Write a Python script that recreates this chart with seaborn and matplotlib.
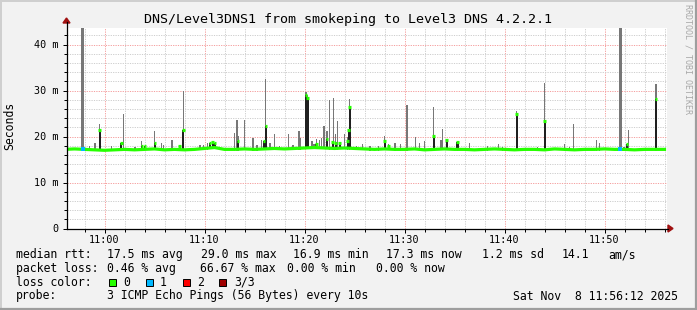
import numpy as np
import matplotlib
matplotlib.use("Agg")
import matplotlib.pyplot as plt
import seaborn as sns
from matplotlib.patches import Rectangle, Polygon
from matplotlib.lines import Line2D

# ---------------- data (minutes after 11:00, values in ms) ----------------
base_minutes = list(range(-4, 57))
base_median = [17.2, 17.3, 17.2, 17.1, 17.0, 17.1, 17.2, 17.1, 17.2, 17.3,
               17.1, 17.2, 17.1, 17.2, 17.4, 17.6, 17.2, 17.2, 17.3, 17.2,
               17.3, 17.4, 17.3, 17.4, 17.5, 17.6, 17.5, 17.4, 17.5, 17.4,
               17.3, 17.2, 17.3, 17.2, 17.2, 17.3, 17.1, 17.2, 17.3, 17.2,
               17.2, 17.1, 17.2, 17.3, 17.2, 17.1, 17.2, 17.2, 17.1, 17.3,
               17.2, 17.1, 17.2, 17.2, 17.3, 17.2, 17.2, 17.1, 17.2, 17.2, 17.2]

smoke_minutes = [-1.48, -0.96, -0.5, 0.69, 1.92, 3.07, 3.72, 5.02, 5.7, 5.92,
                 6.75, 7.89, 9.57, 9.92, 10.32, 10.6, 10.9, 12.99, 13.24, 13.35,
                 14.02, 14.87, 15.25, 15.7, 16.12, 16.55, 17.0, 17.5, 18.4, 18.87,
                 19.44, 19.6, 20.17, 20.3, 20.75, 20.97, 21.19, 21.5, 21.7, 21.94,
                 22.25, 22.5, 22.9, 23.1, 23.3, 24.0, 24.3, 24.5, 25.2, 25.8,
                 26.54, 27.4, 28.0, 28.4, 29.07, 29.6, 30.27, 31.1, 31.5, 32.0,
                 32.9, 33.65, 33.8, 34.2, 35.3, 36.5, 38.3, 39.4, 39.8, 41.2,
                 43.3, 44.0, 46.0, 46.5, 46.9, 49.2, 49.5, 51.95, 52.4, 55.17]
smoke_high = [18.0, 18.5, 22.7, 17.9, 24.8, 17.8, 19.0, 21.3, 18.5, 18.1,
              19.2, 29.9, 18.1, 18.1, 18.6, 18.9, 19.0, 20.8, 23.5, 20.1,
              23.5, 19.7, 18.1, 19.2, 32.5, 18.6, 20.6, 17.9, 20.6, 18.1,
              21.3, 19.6, 29.6, 29.0, 19.0, 18.3, 19.4, 19.3, 19.6, 22.3,
              21.2, 27.9, 28.4, 20.6, 23.3, 20.6, 20.0, 28.1, 17.9, 18.3,
              18.0, 17.9, 20.1, 18.3, 18.6, 18.3, 26.8, 19.9, 18.5, 19.1,
              26.4, 19.2, 21.6, 19.3, 18.8, 18.6, 18.0, 18.3, 17.8, 25.5,
              17.8, 31.7, 18.4, 17.8, 22.7, 19.2, 18.5, 17.8, 21.4, 31.4]

tall_minutes = [-2.2, 51.55]
tall_high = [50.0, 50.0]

spike_minutes = [-0.5, 1.69, 3.72, 4.02, 5.02, 7.5, 7.89, 10.55, 10.8, 11.05,
                 13.35, 15.94, 16.12, 20.17, 20.3, 21.19, 22.25, 22.8, 23.1, 23.5,
                 24.3, 24.4, 24.5, 28.0, 28.4, 32.9, 34.2, 35.3, 41.2, 44.0,
                 52.25, 55.17]
spike_median = [21.5, 18.6, 18.0, 18.0, 18.6, 18.0, 21.5, 18.5, 18.9, 18.6,
                19.0, 19.0, 22.2, 29.0, 28.4, 18.3, 19.4, 18.7, 18.5, 18.6,
                19.1, 21.5, 26.5, 19.1, 18.0, 20.2, 19.2, 18.7, 25.0, 23.4,
                18.3, 28.1]

loss_minutes = [-2.2, 51.55]
loss_median = [17.2, 17.2]

x_ticks = [0, 10, 20, 30, 40, 50]
x_labels = ["11:00", "11:10", "11:20", "11:30", "11:40", "11:50"]
y_ticks = [0, 10, 20, 30, 40]
y_labels = ["0", "10 m", "20 m", "30 m", "40 m"]

title = "DNS/Level3DNS1 from smokeping to Level3 DNS 4.2.2.1"
rtt_items = ["median rtt:", "17.5 ms avg", "29.0 ms max", "16.9 ms min",
             "17.3 ms now", "1.2 ms sd", "14.1", "am/s"]
loss_items = ["packet loss:", "0.46 % avg", "66.67 % max", "0.00 % min", "0.00 % now"]
loss_color_labels = ["0", "1", "2", "3/3"]
loss_colors = ["#26ff00", "#00b8ff", "#ff0000", "#a00000"]
probe_items = ["probe:", "3 ICMP Echo Pings (56 Bytes) every 10s",
               "Sat Nov  8 11:56:12 2025"]

# ---------------- figure ----------------
W, H = 697, 310
MONO = ["DejaVu Sans Mono"]
fig = plt.figure(figsize=(W / 100, H / 100), dpi=100, facecolor="#f2f2f2")


def fx(x):
    return x / W


def fy(y):
    return 1 - y / H


ax_l, ax_r, ax_t, ax_b = 66.5, 666.5, 28.0, 228.5
ax = fig.add_axes([fx(ax_l), fy(ax_b), (ax_r - ax_l) / W, (ax_b - ax_t) / H])
ax.set_facecolor("white")
ax.set_xlim(-3.8, 56.2)
ax.set_ylim(0, (ax_b - ax_t) / 4.6)
for s in ax.spines.values():
    s.set_visible(False)

# grid
ax.set_xticks(x_ticks)
ax.set_xticks(np.arange(-2, 57, 2), minor=True)
ax.set_yticks(y_ticks)
ax.set_yticks(np.arange(0, 44, 2), minor=True)
ax.set_axisbelow(True)
ax.grid(which="minor", color="#cfcfcf", linewidth=0.72, linestyle=(0, (1.2, 1.2)))
ax.grid(which="major", color="#f5a0a0", linewidth=0.72, linestyle=(0, (1.2, 1.2)))
ax.set_xticklabels(x_labels, fontfamily=MONO, fontsize=7.3)
ax.set_yticklabels(y_labels, fontfamily=MONO, fontsize=7.3)
ax.tick_params(which="major", length=3, width=0.72, color="#000000", pad=1.5)
ax.tick_params(which="minor", length=2, width=0.72, color="#000000")
ax.tick_params(axis="y", pad=2.5)

# smoke
base_at_smoke = np.interp(smoke_minutes, base_minutes, base_median) - 0.3
ax.bar(smoke_minutes, np.array(smoke_high) - base_at_smoke, bottom=base_at_smoke,
       width=0.15, color="#777777", linewidth=0, zorder=2)
base_at_tall = np.interp(tall_minutes, base_minutes, base_median) - 0.3
ax.bar(tall_minutes, np.array(tall_high) - base_at_tall, bottom=base_at_tall,
       width=0.3, color="#777777", linewidth=0, zorder=2)

# median spikes (dark transitions)
base_at_spike = np.interp(spike_minutes, base_minutes, base_median)
ax.bar(spike_minutes, np.array(spike_median) - base_at_spike, bottom=base_at_spike,
       width=0.2, color="#202020", linewidth=0, zorder=3)

# median baseline
sns.lineplot(x=base_minutes, y=base_median, color="#26ff00", linewidth=2.3, ax=ax,
             zorder=4, legend=False)
ax.hlines(spike_median, np.array(spike_minutes) - 0.12, np.array(spike_minutes) + 0.12,
          color="#26ff00", linewidth=2.3, zorder=5)
ax.plot(loss_minutes, loss_median, linestyle="none", marker="s", markersize=2.5,
        color="#00b8ff", markeredgewidth=0, zorder=6)
ax.set_xlabel("")
ax.set_ylabel("")


# axis lines with arrows (decorations, pixel coords)
def pline(x0, y0, x1, y1, color, lw=0.9):
    fig.add_artist(Line2D([fx(x0), fx(x1)], [fy(y0), fy(y1)], color=color,
                          linewidth=lw, transform=fig.transFigure))


pline(ax_l, ax_b, ax_l, 22, "#000000")
pline(ax_l, ax_b, 668, ax_b, "#000000")
fig.add_artist(Polygon([[fx(ax_l - 3.5), fy(23)], [fx(ax_l + 3.5), fy(23)], [fx(ax_l), fy(18)]],
                       closed=True, color="#a01010", transform=fig.transFigure))
fig.add_artist(Polygon([[fx(668), fy(ax_b - 3.5)], [fx(668), fy(ax_b + 3.5)], [fx(673), fy(ax_b)]],
                       closed=True, color="#a01010", transform=fig.transFigure))

# frame shading
pline(0, 0.7, W, 0.7, "#cfcfcf", 1.4)
pline(0.7, 0, 0.7, H, "#cfcfcf", 1.4)
pline(W - 1, 0, W - 1, H, "#9e9e9e", 1.6)
pline(0, H - 1, W, H - 1, "#9e9e9e", 1.6)

# texts
fig.text(fx(348), fy(19), title, ha="center", va="center", fontfamily=MONO, fontsize=9.6)
fig.text(fx(10), fy(126), "Seconds", ha="center", va="center", rotation=90,
         fontfamily=MONO, fontsize=8.3)
fig.text(fx(688), fy(59), "RRDTOOL / TOBI OETIKER", ha="center", va="center",
         rotation=270, fontfamily=MONO, fontsize=6, color="#a8a8a8")

LS = 8.3
for s, x in zip(rtt_items, [16, 107.3, 200.7, 293.3, 386, 482, 562, 608]):
    fig.text(fx(x), fy(254.7), s, ha="left", va="center", fontfamily=MONO, fontsize=LS)
for s, x in zip(loss_items, [16, 107.3, 200, 286.7, 376]):
    fig.text(fx(x), fy(268.3), s, ha="left", va="center", fontfamily=MONO, fontsize=LS)
fig.text(fx(16), fy(282.3), "loss color:", ha="left", va="center", fontfamily=MONO, fontsize=LS)
for lab, col, bx, tx in zip(loss_color_labels, loss_colors,
                            [108.7, 145.7, 182.7, 219.3], [123.3, 160, 197.3, 234]):
    fig.add_artist(Rectangle((fx(bx), fy(286)), 7 / W, 7 / H, facecolor=col,
                             edgecolor="#000000", linewidth=0.7, transform=fig.transFigure))
    fig.text(fx(tx), fy(282.3), lab, ha="left", va="center", fontfamily=MONO, fontsize=LS)
for s, x in zip(probe_items, [16, 107.3, 513.3]):
    fig.text(fx(x), fy(296), s, ha="left", va="center", fontfamily=MONO, fontsize=LS)

fig.savefig("out.png", dpi=100, facecolor=fig.get_facecolor())
